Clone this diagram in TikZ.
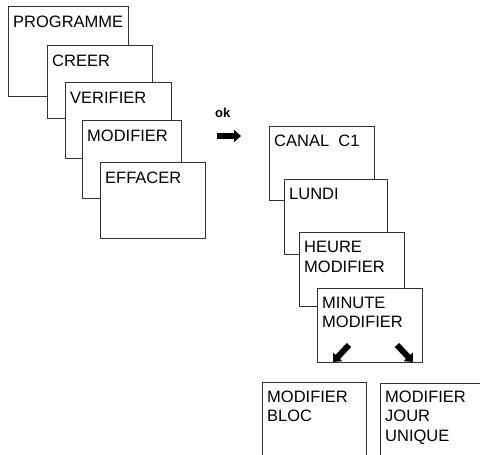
\documentclass[tikz,border=0pt]{standalone}
\usepackage{fontspec}
\setmainfont{Liberation Sans}
\usetikzlibrary{arrows.meta}

\tikzset{
  screen/.style={draw=black!80, line width=0.8pt, fill=white, anchor=north west, inner sep=0pt},
  screentext/.style={anchor=north west, inner sep=0pt, align=left, font=\fontsize{16.5}{19.5}\selectfont},
  bigarrow/.style={line width=6pt, -{Triangle[width=12pt,length=7pt]}}
}

\begin{document}
\begin{tikzpicture}[x=1pt, y=-1pt]
    \useasboundingbox (0,0) rectangle (480,455);
    \clip (0,0) rectangle (480,455);

    % menu programme
    \node[screen, minimum width=120pt, minimum height=90pt] (prog) at (8,6) {};
    \node[screentext] (progtxt) at ([xshift=5pt,yshift=-10pt]prog.north west) {PROGRAMME};
    \node[screen, minimum width=105pt, minimum height=73pt] (creer) at (47,45) {};
    \node[screentext] (creertxt) at ([xshift=5pt,yshift=-10pt]creer.north west) {CREER};
    \node[screen, minimum width=106pt, minimum height=76pt] (verif) at (65,82) {};
    \node[screentext] (veriftxt) at ([xshift=5pt,yshift=-10pt]verif.north west) {VERIFIER};
    \node[screen, minimum width=99pt, minimum height=78pt] (modif) at (82,120) {};
    \node[screentext] (modiftxt) at ([xshift=5pt,yshift=-10pt]modif.north west) {MODIFIER};
    \node[screen, minimum width=105pt, minimum height=76pt] (effac) at (100,162) {};
    \node[screentext] (effactxt) at ([xshift=5pt,yshift=-10pt]effac.north west) {EFFACER};

    % ok
    \node[anchor=base west, inner sep=0pt, font=\bfseries\fontsize{13}{15}\selectfont] (ok) at (215,117) {ok};
    \coordinate (ok1) at (217,136);
    \coordinate (ok2) at (241,136);
    \draw[bigarrow] (ok1) -- (ok2);

    % canal
    \node[screen, minimum width=105pt, minimum height=74pt] (canal) at (269,126) {};
    \node[screentext] (canaltxt) at ([xshift=5pt,yshift=-9pt]canal.north west) {CANAL\ \ C1};
    \node[screen, minimum width=103pt, minimum height=75pt] (lundi) at (284,179) {};
    \node[screentext] (lunditxt) at ([xshift=5pt,yshift=-9pt]lundi.north west) {LUNDI};
    \node[screen, minimum width=105pt, minimum height=74pt] (heure) at (299,232) {};
    \node[screentext] (heuretxt) at ([xshift=5pt,yshift=-9pt]heure.north west) {HEURE\\MODIFIER};
    \node[screen, minimum width=105pt, minimum height=74pt] (minute) at (317,288) {};
    \node[screentext] (minutetxt) at ([xshift=5pt,yshift=-8.5pt]minute.north west) {MINUTE\\MODIFIER};

    \coordinate (bloc1) at (349,345);
    \coordinate (bloc2) at (333,362);
    \coordinate (jour1) at (397,345);
    \coordinate (jour2) at (413,362);
    \draw[bigarrow] (bloc1) -- (bloc2);
    \draw[bigarrow] (jour1) -- (jour2);

    % bas
    \node[screen, minimum width=104pt, minimum height=90pt] (bloc) at (262,382) {};
    \node[screentext] (bloctxt) at ([xshift=5pt,yshift=-8.5pt]bloc.north west) {MODIFIER\\BLOC};
    \node[screen, minimum width=110pt, minimum height=90pt] (jour) at (380,383) {};
    \node[screentext] (jourtxt) at ([xshift=5pt,yshift=-7.5pt]jour.north west) {MODIFIER\\JOUR\\UNIQUE};
\end{tikzpicture}
\end{document}
